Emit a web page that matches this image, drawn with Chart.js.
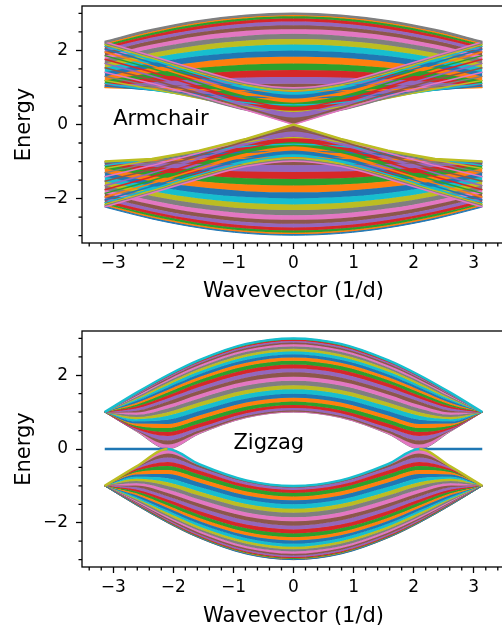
<!DOCTYPE html>
<html>
<head>
<meta charset="utf-8">
<title>Ribbon bands</title>
<script src="https://cdn.jsdelivr.net/npm/chart.js@4.4.1/dist/chart.umd.min.js"></script>
<style>
  html, body { margin: 0; padding: 0; background: #fff; overflow: hidden; }
  #wrap { position: relative; width: 506px; height: 629px; overflow: hidden; }
  canvas { display: block; }
  #zigzag { position: absolute; left: 0; top: 320px; }
</style>
</head>
<body>
<div id="wrap">
  <canvas id="armchair" width="506" height="320"></canvas>
  <canvas id="zigzag" width="506" height="320"></canvas>
</div>

<script>
const tab10 = ['#1f77b4', '#ff7f0e', '#2ca02c', '#d62728', '#9467bd',
               '#8c564b', '#e377c2', '#7f7f7f', '#bcbd22', '#17becf'];

// armchair ribbon: energies read at k >= 0 (the picture is symmetric in k and E)
const armK = [0, 0.7854, 1.5708, 2.3562, 3.1416];
// bands that fall from the top towards k = pi
const armOuter = [
  [2.99, 2.94, 2.79, 2.55, 2.23],
  [2.96, 2.91, 2.76, 2.52, 2.20],
  [2.92, 2.87, 2.72, 2.48, 2.16],
  [2.86, 2.81, 2.66, 2.42, 2.11],
  [2.78, 2.73, 2.58, 2.35, 2.04],
  [2.68, 2.63, 2.49, 2.26, 1.96],
  [2.57, 2.53, 2.39, 2.16, 1.86],
  [2.45, 2.40, 2.27, 2.05, 1.76],
  [2.31, 2.27, 2.14, 1.93, 1.65],
  [2.16, 2.12, 2.00, 1.80, 1.53],
  [2.00, 1.96, 1.85, 1.66, 1.41],
  [1.83, 1.80, 1.69, 1.53, 1.30],
  [1.65, 1.62, 1.53, 1.39, 1.19],
  [1.47, 1.45, 1.37, 1.26, 1.11],
  [1.28, 1.27, 1.22, 1.14, 1.04],
  [1.10, 1.09, 1.07, 1.04, 1.00]
];
// bands that rise from near zero towards k = pi
const armInner = [
  [0.99, 1.13, 1.47, 1.85, 2.23],
  [0.96, 1.11, 1.44, 1.83, 2.20],
  [0.92, 1.07, 1.40, 1.79, 2.16],
  [0.86, 1.01, 1.35, 1.74, 2.11],
  [0.78, 0.94, 1.28, 1.67, 2.04],
  [0.68, 0.85, 1.20, 1.59, 1.96],
  [0.57, 0.75, 1.12, 1.51, 1.86],
  [0.45, 0.65, 1.02, 1.41, 1.76],
  [0.31, 0.54, 0.93, 1.31, 1.65],
  [0.16, 0.45, 0.84, 1.21, 1.53],
  [0.00, 0.39, 0.77, 1.11, 1.41],
  [0.17, 0.39, 0.72, 1.03, 1.30],
  [0.35, 0.47, 0.71, 0.96, 1.19],
  [0.53, 0.59, 0.75, 0.93, 1.11],
  [0.72, 0.75, 0.82, 0.93, 1.04],
  [0.90, 0.91, 0.94, 0.97, 1.00]
];

// zigzag ribbon
const zigK = [0, 0.7854, 1.5708, 2.0944, 2.618, 3.1416];
const zigBands = [
  [3.00, 2.85, 2.41, 2.00, 1.52, 1.00],
  [3.00, 2.84, 2.41, 2.00, 1.52, 1.00],
  [2.98, 2.83, 2.40, 1.99, 1.51, 1.00],
  [2.96, 2.81, 2.38, 1.97, 1.50, 1.00],
  [2.93, 2.78, 2.35, 1.95, 1.48, 1.00],
  [2.89, 2.74, 2.32, 1.92, 1.46, 1.00],
  [2.84, 2.69, 2.27, 1.88, 1.44, 1.00],
  [2.78, 2.64, 2.22, 1.84, 1.41, 1.00],
  [2.72, 2.57, 2.17, 1.79, 1.37, 1.00],
  [2.65, 2.50, 2.10, 1.73, 1.34, 1.00],
  [2.57, 2.42, 2.03, 1.67, 1.30, 1.00],
  [2.48, 2.34, 1.95, 1.60, 1.25, 1.00],
  [2.39, 2.25, 1.87, 1.53, 1.20, 1.00],
  [2.29, 2.15, 1.78, 1.45, 1.15, 1.00],
  [2.18, 2.05, 1.68, 1.37, 1.10, 1.00],
  [2.08, 1.94, 1.58, 1.29, 1.04, 1.00],
  [1.96, 1.83, 1.48, 1.19, 0.99, 1.00],
  [1.85, 1.72, 1.37, 1.10, 0.93, 1.00],
  [1.73, 1.60, 1.26, 1.00, 0.87, 1.00],
  [1.62, 1.49, 1.15, 0.90, 0.81, 1.00],
  [1.50, 1.37, 1.03, 0.79, 0.75, 1.00],
  [1.39, 1.26, 0.91, 0.68, 0.69, 1.00],
  [1.29, 1.15, 0.80, 0.57, 0.63, 1.00],
  [1.19, 1.05, 0.69, 0.46, 0.59, 1.00],
  [1.11, 0.97, 0.58, 0.35, 0.54, 1.00],
  [1.05, 0.90, 0.50, 0.23, 0.51, 1.00],
  [1.01, 0.86, 0.44, 0.12, 0.50, 1.00],
  [1.00, 0.85, 0.41, 0.00, 0.48, 1.00]
];
// flat edge state
const edgeK = [2.0944, 3.1416];
const edgeE = [0, 0];

Chart.defaults.font.family = '"DejaVu Sans", sans-serif';
Chart.defaults.color = '#000';

function mirror(ks, vals) {
  const xs = ks.slice(1).reverse().map(k => -k).concat(ks);
  const ys = vals.slice(1).reverse().concat(vals);
  return xs.map((x, i) => ({ x: x, y: ys[i] }));
}

// one dataset per band, each filled to the next one so the bands read as stripes
function bandSets(ks, bands, sign, sharpZero) {
  return bands.map((vals, j) => {
    const c = tab10[j % 10];
    const sharp = sharpZero && vals.includes(0);
    return {
      data: mirror(ks, vals.map(v => sign * v)),
      borderColor: c,
      backgroundColor: c,
      borderWidth: 1,
      fill: j < bands.length - 1 ? '+1' : false,
      cubicInterpolationMode: sharp ? 'default' : 'monotone',
      tension: 0,
      order: 1
    };
  });
}

// thin lines redrawn over the stripes (crossing family)
function overLines(ks, bands, sign, offset) {
  return bands.map((vals, j) => ({
    data: mirror(ks, vals.map(v => sign * v)),
    borderColor: tab10[(j + offset) % 10],
    borderWidth: 1.5,
    fill: false,
    cubicInterpolationMode: vals.includes(0) ? 'default' : 'monotone',
    tension: 0,
    order: 0.5
  }));
}

function edgeLine(data, color, sharp) {
  return {
    data: data, borderColor: color, borderWidth: 2.5, fill: false,
    cubicInterpolationMode: sharp ? 'default' : 'monotone', tension: 0, order: 0
  };
}

const fmt = v => String(v).replace('-', '\u2212');

const decor = {
  id: 'decor',
  afterDraw(chart) {
    const { ctx, chartArea: a, scales: { x, y } } = chart;
    const o = chart.options.plugins.decor;
    ctx.save();
    ctx.strokeStyle = '#000';
    ctx.lineWidth = 1.3;
    ctx.beginPath();
    for (let i = -17; i <= 17; i++) {
      if (i % 5 === 0) continue;
      const px = x.getPixelForValue(i * 0.2);
      ctx.moveTo(px, a.bottom);
      ctx.lineTo(px, a.bottom + 3.5);
    }
    for (let i = -6; i <= 6; i++) {
      if (i % 4 === 0) continue;
      const py = y.getPixelForValue(i * 0.5);
      ctx.moveTo(a.left, py);
      ctx.lineTo(a.left - 3.5, py);
    }
    ctx.stroke();
    ctx.strokeRect(a.left, a.top, a.right - a.left, a.bottom - a.top);
    ctx.fillStyle = '#000';
    ctx.font = '21px "DejaVu Sans"';
    ctx.textBaseline = 'alphabetic';
    ctx.textAlign = 'left';
    ctx.fillText(o.label, x.getPixelForValue(o.labelK), y.getPixelForValue(0));
    ctx.restore();
  }
};

function makeChart(id, datasets, cfg) {
  return new Chart(document.getElementById(id), {
    type: 'line',
    data: { datasets: datasets },
    options: {
      responsive: false,
      animation: false,
      events: [],
      devicePixelRatio: 1,
      layout: { padding: { top: cfg.top, right: 1, left: 0, bottom: 0 } },
      elements: { point: { radius: 0 } },
      plugins: {
        legend: { display: false },
        tooltip: { enabled: false },
        decor: { label: cfg.label, labelK: cfg.labelK }
      },
      scales: {
        x: {
          type: 'linear', min: -3.52, max: 3.52,
          ticks: { stepSize: 1, includeBounds: false, padding: 4.5, font: { size: 17 },
                   maxRotation: 0, autoSkip: false, callback: fmt },
          grid: { display: true, drawOnChartArea: false, drawTicks: true,
                  tickLength: 6, tickWidth: 1.3, tickColor: '#000' },
          border: { display: false },
          title: { display: true, text: 'Wavevector (1/d)', font: { size: 21 },
                   padding: { top: 0, bottom: cfg.xTitlePad } },
          afterFit(s) { s.height = cfg.xH; s.paddingLeft = 0; s.paddingRight = 0; }
        },
        y: {
          type: 'linear', min: -3.2, max: 3.2,
          ticks: { stepSize: 2, includeBounds: false, padding: 8, font: { size: 17 }, callback: fmt },
          grid: { display: true, drawOnChartArea: false, drawTicks: true,
                  tickLength: 6, tickWidth: 1.3, tickColor: '#000' },
          border: { display: false },
          title: { display: true, text: 'Energy', font: { size: 21 },
                   padding: { top: 12.4, bottom: 0 } },
          afterFit(s) { s.width = 82; s.paddingTop = 0; s.paddingBottom = 0; }
        }
      }
    },
    plugins: [decor]
  });
}

// armchair panel
const armBands = armOuter.concat(armInner);
const armTop = armK.map((_, i) => Math.max(...armBands.map(b => b[i])));
const armGap = armK.map((_, i) => Math.min(...armBands.map(b => b[i])));
const armSets = [
  ...bandSets(armK, armBands, 1, true),
  ...bandSets(armK, armBands, -1, true),
  ...overLines(armK, armInner, 1, armOuter.length),
  ...overLines(armK, armInner, -1, armOuter.length),
  edgeLine(mirror(armK, armTop), '#7f7f7f', false),
  edgeLine(mirror(armK, armGap.map(v => -v)), '#bcbd22', true)
];
makeChart('armchair', armSets, { top: 6, xH: 77, xTitlePad: 15.4, label: 'Armchair', labelK: -3 });

// zigzag panel
const zigOuter = zigBands[0];
const zigInner = zigBands[zigBands.length - 1];
const zigLowerEdge = edgeLine(mirror(zigK, zigInner.map(v => -v)), '#17becf', false);
zigLowerEdge.segment = {
  borderColor: c => Math.min(Math.abs(c.p0.parsed.x), Math.abs(c.p1.parsed.x)) >= 2.09 ? '#bcbd22' : '#17becf'
};
const zigSets = [
  ...bandSets(zigK, zigBands, 1, false),
  ...bandSets(zigK, zigBands, -1, false),
  edgeLine(mirror(zigK, zigOuter), '#17becf', false),
  zigLowerEdge,
  edgeLine(edgeK.map((k, i) => ({ x: -k, y: edgeE[i] })).reverse(), '#1f77b4', true),
  edgeLine(edgeK.map((k, i) => ({ x: k, y: edgeE[i] })), '#1f77b4', true)
];
makeChart('zigzag', zigSets, { top: 11, xH: 73, xTitlePad: 10.4, label: 'Zigzag', labelK: -1 });
</script>
</body>
</html>
